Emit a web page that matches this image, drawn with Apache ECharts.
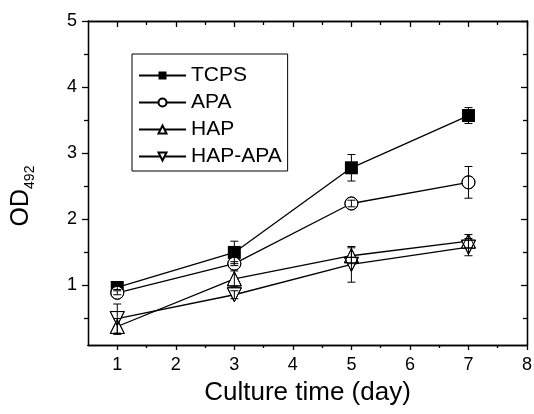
<!DOCTYPE html>
<html>
<head>
    <meta charset="utf-8" />
    <title>OD492</title>
    <style>
        html, body { margin: 0; padding: 0; background: #fff; }
        #main { width: 534px; height: 414px; }
    </style>
    <script src="https://cdn.jsdelivr.net/npm/echarts@6/dist/echarts.min.js"></script>
</head>
<body>
    <div id="main"></div>
    <script type="text/javascript">
        // data
        var days = [1, 3, 5, 7];
        var seriesNames = ['TCPS', 'APA', 'HAP', 'HAP-APA'];
        var tcps = [0.97, 1.50, 2.78, 3.57];
        var tcpsErr = [0.03, 0.17, 0.20, 0.12];
        var apa = [0.89, 1.33, 2.24, 2.56];
        var apaErr = [0.03, 0.03, 0.05, 0.24];
        var hap = [0.38, 1.10, 1.45, 1.67];
        var hapErr = [0.12, 0.12, 0.12, 0.10];
        var hapApa = [0.50, 0.86, 1.32, 1.58];
        var hapApaErr = [0.22, 0.06, 0.27, 0.13];

        // tick labels
        var xMajor = [1, 2, 3, 4, 5, 6, 7, 8];
        var xMinor = [1.5, 2.5, 3.5, 4.5, 5.5, 6.5, 7.5];
        var yMajor = [1, 2, 3, 4, 5];
        var yMinor = [0.5, 1.5, 2.5, 3.5, 4.5];

        var FONT = '"Liberation Sans", Arial, sans-serif';
        var downTri = 'path://M0,0L2,0L1,2Z';
        var symbols = ['rect', 'circle', 'triangle', downTri];
        var symbolSizes = [13, 13, 14, 14];
        var fills = ['#000', '#fff', '#fff', '#fff'];
        var values = [tcps, apa, hap, hapApa];
        var errors = [tcpsErr, apaErr, hapErr, hapApaErr];

        function axisLine() {
            return { show: true, onZero: false, lineStyle: { color: '#000', width: 1.3 } };
        }

        function makeAxis(pos, min, max, ticks, len, inside, labels) {
            return {
                type: 'value',
                position: pos,
                min: min,
                max: max,
                axisLine: axisLine(),
                axisTick: { show: true, inside: inside, length: len, customValues: ticks, lineStyle: { color: '#000', width: 1.3 } },
                axisLabel: labels ? {
                    customValues: labels, margin: 11, color: '#000', fontSize: 18, fontFamily: FONT
                } : { show: false },
                splitLine: { show: false }
            };
        }

        var xAxes = [
            makeAxis('bottom', 0.5, 8, xMajor, 5, false, xMajor),
            makeAxis('bottom', 0.5, 8, xMinor, 3, false, null),
            makeAxis('top', 0.5, 8, xMajor, 6, true, null),
            makeAxis('top', 0.5, 8, xMinor, 4, true, null)
        ];
        xAxes[0].name = 'Culture time (day)';
        xAxes[0].nameLocation = 'middle';
        xAxes[0].nameGap = 35;
        xAxes[0].nameTextStyle = { color: '#000', fontSize: 26, fontFamily: FONT };

        var yAxes = [
            makeAxis('left', 0.1, 5, yMajor, 6, false, yMajor),
            makeAxis('left', 0.1, 5, yMinor, 4, false, null),
            makeAxis('right', 0.1, 5, yMajor, 6, true, null),
            makeAxis('right', 0.1, 5, yMinor, 4, true, null)
        ];
        yAxes[0].name = '{a|OD}{b|492}';
        yAxes[0].nameLocation = 'middle';
        yAxes[0].nameGap = 51;
        yAxes[0].nameTextStyle = {
            color: '#000',
            fontFamily: FONT,
            padding: [0, 26, 0, 0],
            rich: {
                a: { fontSize: 25, lineHeight: 32, fontFamily: FONT, color: '#000' },
                b: { fontSize: 14, lineHeight: 2, verticalAlign: 'bottom', fontFamily: FONT, color: '#000' }
            }
        };

        function pairs(vals) {
            return days.map(function (d, i) { return [d, vals[i]]; });
        }

        var series = [];
        // lines with filled markers (white fill hides the line inside hollow markers)
        seriesNames.forEach(function (name, k) {
            series.push({
                name: name,
                type: 'line',
                data: pairs(values[k]),
                symbol: symbols[k],
                symbolSize: symbolSizes[k],
                showSymbol: true,
                z: 2,
                lineStyle: { color: '#000', width: 1.3 },
                itemStyle: { color: fills[k], borderColor: '#000', borderWidth: k === 0 ? 0 : 1 }
            });
        });
        // marker outlines on top so overlapping hollow markers all show
        seriesNames.forEach(function (name, k) {
            if (k === 0) return;
            series.push({
                name: name + '_outline',
                type: 'scatter',
                data: pairs(values[k]),
                symbol: symbols[k],
                symbolSize: symbolSizes[k],
                z: 3,
                silent: true,
                itemStyle: { color: 'rgba(0,0,0,0)', borderColor: '#000', borderWidth: 1, opacity: 1 }
            });
        });
        // error bars
        seriesNames.forEach(function (name, k) {
            series.push({
                name: name + '_err',
                type: 'custom',
                z: 4,
                silent: true,
                data: days.map(function (d, i) {
                    return [d, values[k][i] - errors[k][i], values[k][i] + errors[k][i]];
                }),
                encode: { x: 0, y: [1, 2] },
                renderItem: function (params, api) {
                    var lo = api.coord([api.value(0), api.value(1)]);
                    var hi = api.coord([api.value(0), api.value(2)]);
                    var w = 4;
                    var st = { stroke: '#000', lineWidth: 1 };
                    return {
                        type: 'group',
                        children: [
                            { type: 'line', shape: { x1: hi[0], y1: hi[1], x2: lo[0], y2: lo[1] }, style: st },
                            { type: 'line', shape: { x1: hi[0] - w, y1: hi[1], x2: hi[0] + w, y2: hi[1] }, style: st },
                            { type: 'line', shape: { x1: lo[0] - w, y1: lo[1], x2: lo[0] + w, y2: lo[1] }, style: st }
                        ]
                    };
                }
            });
        });

        var myChart = echarts.init(document.getElementById('main'));
        var option = {
            animation: false,
            backgroundColor: '#fff',
            grid: { left: 88, right: 7, top: 21, bottom: 69, containLabel: false, outerBoundsMode: 'none' },
            legend: {
                data: seriesNames,
                orient: 'vertical',
                left: 132,
                top: 54,
                padding: [11, 6, 4, 6],
                itemGap: 6,
                itemWidth: 47,
                itemHeight: 10,
                itemTextGap: 5,
                borderColor: '#000',
                borderWidth: 1,
                selectedMode: false,
                textStyle: { color: '#000', fontSize: 21, fontFamily: FONT, lineHeight: 21 }
            },
            xAxis: xAxes,
            yAxis: yAxes,
            series: series
        };
        myChart.setOption(option);
    </script>
</body>
</html>
